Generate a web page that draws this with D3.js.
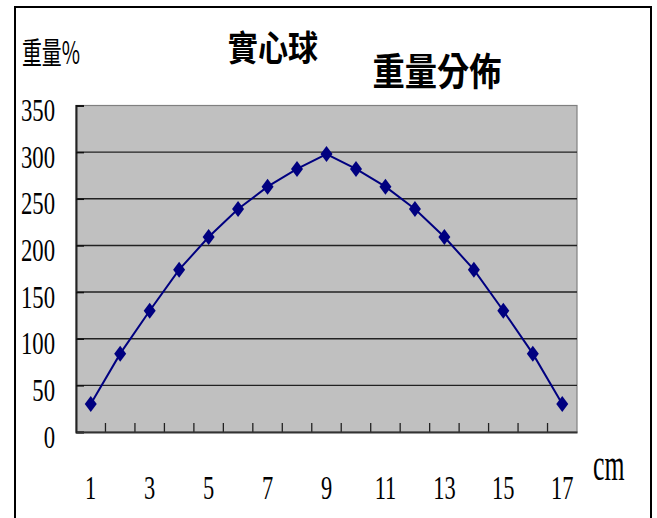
<!DOCTYPE html>
<html>
<head>
<meta charset="utf-8">
<script src="https://cdn.jsdelivr.net/npm/d3@7"></script>
<style>
  html, body { margin: 0; padding: 0; background: #fff; }
  svg { display: block; }
</style>
</head>
<body>
<svg id="chart" width="657" height="518"></svg>
<script>
// Slice positions along the ball (cm) and the share of weight in each slice
const positions = ["1","2","3","4","5","6","7","8","9","10","11","12","13","14","15","16","17"];
const weights   = [30, 84, 130, 174, 209, 239, 263, 282, 298, 282, 263, 239, 209, 174, 130, 84, 30];
const xTickLabels = ["1","3","5","7","9","11","13","15","17"];
const yTicks = [0, 50, 100, 150, 200, 250, 300, 350];

const svg = d3.select("#chart");
const plot = { left: 76, right: 577, top: 105.5, bottom: 432 };

// outer frame (open at the bottom edge of the window)
svg.append("rect")
  .attr("x", 15).attr("y", 7).attr("width", 636).attr("height", 540)
  .attr("fill", "none").attr("stroke", "#000").attr("stroke-width", 2);

const x = d3.scaleBand().domain(positions).range([plot.left, plot.right]).padding(0);
const y = d3.scaleLinear().domain([0, 350]).range([plot.bottom, plot.top]);

// plot background
svg.append("rect")
  .attr("x", plot.left).attr("y", plot.top)
  .attr("width", plot.right - plot.left).attr("height", plot.bottom - plot.top)
  .attr("fill", "#c0c0c0").attr("stroke", "#808080").attr("stroke-width", 1.2);

// horizontal gridlines
svg.append("g").selectAll("line")
  .data(yTicks.filter(d => d > 0 && d < 350))
  .join("line")
  .attr("x1", plot.left).attr("x2", plot.right)
  .attr("y1", d => y(d)).attr("y2", d => y(d))
  .attr("stroke", "#222").attr("stroke-width", 1.4);

// y axis: line, inward ticks, condensed labels
const yAxis = svg.append("g")
  .attr("transform", `translate(${plot.left},0)`)
  .call(d3.axisLeft(y).tickValues(yTicks).tickSize(-8).tickPadding(0));
yAxis.select(".domain").attr("stroke", "#222").attr("stroke-width", 2);
yAxis.selectAll(".tick line").attr("stroke", "#111").attr("stroke-width", 1.5);
yAxis.selectAll(".tick text")
  .attr("font-family", "'Liberation Serif', 'DejaVu Serif', serif")
  .attr("font-size", 32).attr("fill", "#000")
  .attr("text-anchor", "end")
  .attr("x", -21 / 0.71).attr("y", 15).attr("dy", 0)
  .attr("transform", "scale(0.71,1)");

// x axis: boundary ticks pointing up into the plot
svg.append("g").selectAll("line")
  .data(positions.slice(1))
  .join("line")
  .attr("x1", d => x(d)).attr("x2", d => x(d))
  .attr("y1", plot.bottom).attr("y2", plot.bottom - 9)
  .attr("stroke", "#222").attr("stroke-width", 1.3);

const xAxis = svg.append("g")
  .attr("transform", `translate(0,${plot.bottom})`)
  .call(d3.axisBottom(x).tickValues(xTickLabels).tickSize(0).tickPadding(0));
xAxis.select(".domain").attr("stroke", "#333").attr("stroke-width", 2.2);
xAxis.selectAll(".tick text")
  .attr("font-family", "'Liberation Serif', 'DejaVu Serif', serif")
  .attr("font-size", 34).attr("fill", "#000")
  .attr("y", 67).attr("dy", 0)
  .attr("transform", "scale(0.66,1)");
xAxis.selectAll(".tick").each(function(d) {
  d3.select(this).attr("transform", `translate(${x(d) + x.bandwidth() / 2},0)`);
  d3.select(this).select("text").attr("x", 0);
});

// series line and diamond markers
const pts = positions.map((p, i) => [x(p) + x.bandwidth() / 2, y(weights[i])]);
svg.append("path")
  .attr("d", d3.line()(pts))
  .attr("fill", "none").attr("stroke", "#000080").attr("stroke-width", 2);
svg.append("g").selectAll("path")
  .data(pts)
  .join("path")
  .attr("d", d => `M${d[0]},${d[1] - 8}L${d[0] + 6},${d[1]}L${d[0]},${d[1] + 8}L${d[0] - 6},${d[1]}Z`)
  .attr("fill", "#000080");

// axis titles
svg.append("text")
  .attr("transform", "translate(22,50) scale(0.64,1)")
  .attr("font-family", "'Noto Sans CJK TC', sans-serif")
  .attr("font-size", 31).attr("dominant-baseline", "central")
  .text("重量%");

svg.append("text")
  .attr("transform", "translate(593,480) scale(0.56,1)")
  .attr("font-family", "'Liberation Serif', serif")
  .attr("font-size", 46)
  .text("cm");

// chart titles
svg.append("text")
  .attr("transform", "translate(273,45) scale(0.86,1)")
  .attr("font-family", "'Noto Sans CJK TC', sans-serif")
  .attr("font-weight", "bold").attr("font-size", 35)
  .attr("text-anchor", "middle").attr("dominant-baseline", "central")
  .text("實心球");

svg.append("text")
  .attr("transform", "translate(437,68) scale(0.85,1)")
  .attr("font-family", "'Noto Sans CJK TC', sans-serif")
  .attr("font-weight", "bold").attr("font-size", 38)
  .attr("text-anchor", "middle").attr("dominant-baseline", "central")
  .text("重量分佈");
</script>
</body>
</html>
